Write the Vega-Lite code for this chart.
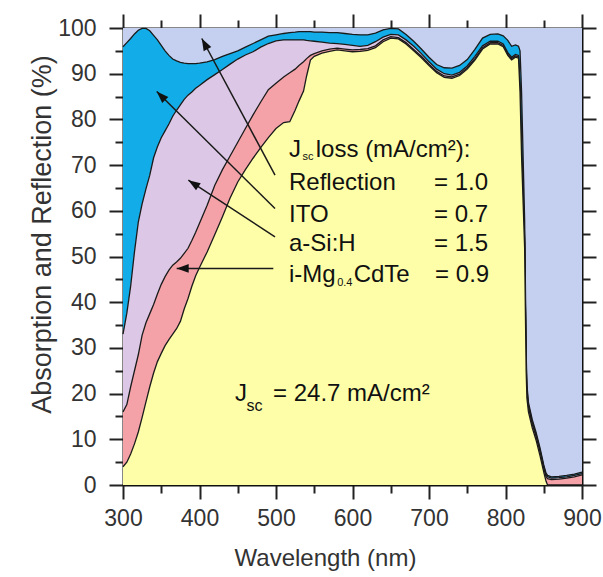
{
  "$schema": "https://vega.github.io/schema/vega-lite/v6.json",
  "width": 459,
  "height": 457,
  "autosize": {"type": "none"},
  "padding": {"left": 123, "top": 28, "right": 21, "bottom": 92},
  "background": "white",
  "config": {
    "view": {"stroke": null},
    "area": {"opacity": 1},
    "axis": {
      "grid": false,
      "labelFont": "Liberation Sans",
      "titleFont": "Liberation Sans",
      "labelFontSize": 23,
      "labelColor": "#333",
      "titleColor": "#333",
      "titleFontWeight": "normal",
      "tickColor": "#222",
      "tickWidth": 2,
      "domain": false,
      "domainColor": "#111",
      "domainWidth": 2,
      "zindex": 1,
      "labelFlush": false,
      "labelOverlap": false
    },
    "text": {"font": "Liberation Sans"}
  },
  "datasets": {
    "curves": [
      {"wl": 300, "b1": 4, "b2": 16, "b3": 33, "b4": 95.9},
      {"wl": 305, "b1": 5, "b2": 17.6, "b3": 37.6, "b4": 96.8},
      {"wl": 310, "b1": 6.8, "b2": 21.5, "b3": 43.5, "b4": 97.7},
      {"wl": 315, "b1": 9, "b2": 25, "b3": 51, "b4": 98.7},
      {"wl": 320, "b1": 11.6, "b2": 28.5, "b3": 57.5, "b4": 99.5},
      {"wl": 325, "b1": 14.8, "b2": 32.8, "b3": 61.5, "b4": 99.9},
      {"wl": 330, "b1": 18.2, "b2": 35.5, "b3": 64.8, "b4": 99.9},
      {"wl": 335, "b1": 21.5, "b2": 37.5, "b3": 67.8, "b4": 99.4},
      {"wl": 340, "b1": 24.5, "b2": 39.5, "b3": 71.6, "b4": 98.4},
      {"wl": 345, "b1": 27, "b2": 41.8, "b3": 74, "b4": 97.4},
      {"wl": 350, "b1": 28.8, "b2": 43.9, "b3": 76, "b4": 96.2},
      {"wl": 355, "b1": 30.5, "b2": 45.6, "b3": 77.5, "b4": 95},
      {"wl": 360, "b1": 31.8, "b2": 47, "b3": 79, "b4": 94},
      {"wl": 365, "b1": 33, "b2": 48.1, "b3": 80.7, "b4": 93.2},
      {"wl": 370, "b1": 34.2, "b2": 48.8, "b3": 82, "b4": 92.8},
      {"wl": 375, "b1": 35.8, "b2": 49.6, "b3": 83.2, "b4": 92.5},
      {"wl": 380, "b1": 38.5, "b2": 50.7, "b3": 84.4, "b4": 92.3},
      {"wl": 385, "b1": 40.8, "b2": 51.8, "b3": 85.3, "b4": 92.2},
      {"wl": 390, "b1": 43.5, "b2": 53.5, "b3": 86, "b4": 92.2},
      {"wl": 395, "b1": 45.8, "b2": 55.3, "b3": 86.8, "b4": 92.2},
      {"wl": 400, "b1": 47.6, "b2": 57.3, "b3": 87.4, "b4": 92.3},
      {"wl": 410, "b1": 51, "b2": 61.2, "b3": 88.7, "b4": 92.6},
      {"wl": 420, "b1": 54.8, "b2": 65.6, "b3": 89.8, "b4": 93.1},
      {"wl": 430, "b1": 58.7, "b2": 69, "b3": 90.9, "b4": 93.8},
      {"wl": 440, "b1": 62.8, "b2": 72, "b3": 92.1, "b4": 94.4},
      {"wl": 450, "b1": 66.3, "b2": 75, "b3": 93.2, "b4": 95},
      {"wl": 460, "b1": 69, "b2": 78, "b3": 94.1, "b4": 95.8},
      {"wl": 470, "b1": 71.5, "b2": 81, "b3": 94.8, "b4": 96.6},
      {"wl": 480, "b1": 73.8, "b2": 83.8, "b3": 95.8, "b4": 97.4},
      {"wl": 490, "b1": 76, "b2": 86.5, "b3": 96.6, "b4": 98.2},
      {"wl": 500, "b1": 78, "b2": 87.9, "b3": 97.2, "b4": 98.5},
      {"wl": 510, "b1": 79.3, "b2": 89.3, "b3": 97.4, "b4": 98.8},
      {"wl": 518, "b1": 79.5, "b2": 90.2, "b3": 97.4, "b4": 99},
      {"wl": 525, "b1": 82, "b2": 91, "b3": 97.4, "b4": 99.1},
      {"wl": 530, "b1": 84, "b2": 91.8, "b3": 97.4, "b4": 99.2},
      {"wl": 536, "b1": 86.2, "b2": 92.6, "b3": 97.4, "b4": 99.2},
      {"wl": 540, "b1": 89.5, "b2": 93.3, "b3": 97.3, "b4": 99.2},
      {"wl": 545, "b1": 93, "b2": 94, "b3": 97.2, "b4": 99.2},
      {"wl": 550, "b1": 93.8, "b2": 94.4, "b3": 97.1, "b4": 99.1},
      {"wl": 560, "b1": 94.5, "b2": 95, "b3": 96.9, "b4": 99.1},
      {"wl": 570, "b1": 94.9, "b2": 95.4, "b3": 96.7, "b4": 99},
      {"wl": 580, "b1": 95.2, "b2": 95.6, "b3": 96.6, "b4": 99},
      {"wl": 590, "b1": 95, "b2": 95.4, "b3": 96.4, "b4": 98.8},
      {"wl": 600, "b1": 94.8, "b2": 95.2, "b3": 96.2, "b4": 98.6},
      {"wl": 610, "b1": 94.9, "b2": 95.3, "b3": 96, "b4": 98.5},
      {"wl": 620, "b1": 95.1, "b2": 95.5, "b3": 96.2, "b4": 98.5},
      {"wl": 630, "b1": 95.7, "b2": 96.1, "b3": 97, "b4": 98.9},
      {"wl": 640, "b1": 97, "b2": 97.4, "b3": 98, "b4": 99.6},
      {"wl": 650, "b1": 97.8, "b2": 98.1, "b3": 98.6, "b4": 99.9},
      {"wl": 660, "b1": 97.6, "b2": 97.9, "b3": 98.5, "b4": 99.8},
      {"wl": 670, "b1": 96.5, "b2": 96.8, "b3": 97.4, "b4": 98.6},
      {"wl": 680, "b1": 95, "b2": 95.3, "b3": 96, "b4": 97.1},
      {"wl": 690, "b1": 93.5, "b2": 93.8, "b3": 94.4, "b4": 95.4},
      {"wl": 700, "b1": 91.8, "b2": 92.1, "b3": 92.6, "b4": 93.6},
      {"wl": 710, "b1": 90.2, "b2": 90.5, "b3": 91, "b4": 92},
      {"wl": 720, "b1": 89.2, "b2": 89.5, "b3": 90, "b4": 91.3},
      {"wl": 730, "b1": 89, "b2": 89.3, "b3": 89.7, "b4": 91.2},
      {"wl": 740, "b1": 89.6, "b2": 89.9, "b3": 90.3, "b4": 91.8},
      {"wl": 750, "b1": 91, "b2": 91.3, "b3": 91.7, "b4": 93.1},
      {"wl": 760, "b1": 93, "b2": 93.3, "b3": 93.8, "b4": 95.3},
      {"wl": 770, "b1": 95.4, "b2": 95.7, "b3": 96.1, "b4": 97.8},
      {"wl": 780, "b1": 96.5, "b2": 96.8, "b3": 97.1, "b4": 98.6},
      {"wl": 790, "b1": 96.5, "b2": 96.8, "b3": 97.1, "b4": 98.7},
      {"wl": 797, "b1": 95.9, "b2": 96.2, "b3": 96.5, "b4": 98.3},
      {"wl": 803, "b1": 94, "b2": 94.3, "b3": 94.6, "b4": 97.3},
      {"wl": 808, "b1": 93, "b2": 93.3, "b3": 93.6, "b4": 96},
      {"wl": 813, "b1": 93.6, "b2": 93.9, "b3": 94.2, "b4": 96.3},
      {"wl": 817, "b1": 93.4, "b2": 93.7, "b3": 94, "b4": 96},
      {"wl": 819, "b1": 86, "b2": 86.5, "b3": 87, "b4": 95},
      {"wl": 821, "b1": 72, "b2": 73, "b3": 74, "b4": 86},
      {"wl": 823, "b1": 62, "b2": 63, "b3": 64, "b4": 72},
      {"wl": 825, "b1": 52, "b2": 53, "b3": 54, "b4": 58},
      {"wl": 826, "b1": 38, "b2": 39, "b3": 40, "b4": 44},
      {"wl": 827, "b1": 25, "b2": 26, "b3": 27, "b4": 29},
      {"wl": 828, "b1": 19, "b2": 20, "b3": 21, "b4": 22},
      {"wl": 830, "b1": 16, "b2": 17, "b3": 17.5, "b4": 18},
      {"wl": 835, "b1": 12.5, "b2": 13.3, "b3": 13.8, "b4": 14.3},
      {"wl": 840, "b1": 9.8, "b2": 10.6, "b3": 11, "b4": 11.5},
      {"wl": 845, "b1": 6.5, "b2": 7.4, "b3": 7.8, "b4": 8.2},
      {"wl": 850, "b1": 2.8, "b2": 3.6, "b3": 4, "b4": 4.4},
      {"wl": 853, "b1": 0.8, "b2": 1.8, "b3": 2.2, "b4": 2.6},
      {"wl": 855, "b1": 0, "b2": 1.4, "b3": 1.8, "b4": 2.1},
      {"wl": 860, "b1": 0, "b2": 1.2, "b3": 1.5, "b4": 1.8},
      {"wl": 870, "b1": 0, "b2": 1.3, "b3": 1.6, "b4": 1.9},
      {"wl": 880, "b1": 0, "b2": 1.5, "b3": 1.8, "b4": 2.1},
      {"wl": 890, "b1": 0, "b2": 1.8, "b3": 2.1, "b4": 2.4},
      {"wl": 900, "b1": 0, "b2": 2.2, "b3": 2.5, "b4": 2.8}
    ],
    "labels": [
      {"x": 517, "y": 73.3, "text": "J", "kind": "main"},
      {"x": 534.5, "y": 71.7, "text": "sc", "kind": "sub"},
      {"x": 552, "y": 73.3, "text": "loss (mA/cm²):", "kind": "main"},
      {"x": 517, "y": 66.1, "text": "Reflection", "kind": "main"},
      {"x": 706.5, "y": 66.1, "text": "= 1.0", "kind": "main"},
      {"x": 517, "y": 59.1, "text": "ITO", "kind": "main"},
      {"x": 706.5, "y": 59.1, "text": "= 0.7", "kind": "main"},
      {"x": 517, "y": 52.8, "text": "a-Si:H", "kind": "main"},
      {"x": 706.5, "y": 52.8, "text": "= 1.5", "kind": "main"},
      {"x": 517, "y": 46.0, "text": "i-Mg", "kind": "main"},
      {"x": 580, "y": 44.3, "text": "0.4", "kind": "sub"},
      {"x": 601.5, "y": 46.0, "text": "CdTe", "kind": "main"},
      {"x": 708, "y": 46.0, "text": "= 0.9", "kind": "main"},
      {"x": 446.4, "y": 20.0, "text": "J", "kind": "main"},
      {"x": 461.5, "y": 17.3, "text": "sc", "kind": "sub2"},
      {"x": 496.1, "y": 20.0, "text": "= 24.7 mA/cm²", "kind": "main"}
    ],
    "arrows": [
      {"label": "Reflection", "x": 403.0, "y": 97.7, "x2": 498.7, "y2": 67.8},
      {"label": "ITO", "x": 344.1, "y": 86.1, "x2": 498.7, "y2": 60.5},
      {"label": "a-Si:H", "x": 385.4, "y": 66.7, "x2": 498.7, "y2": 54.3},
      {"label": "i-Mg0.4CdTe", "x": 370.2, "y": 47.4, "x2": 496.5, "y2": 47.4}
    ]
  },
  "layer": [
    {
      "data": {"name": "curves"},
      "mark": {"type": "area", "color": "#c5d0f0", "opacity": 1},
      "encoding": {
        "x": {"field": "wl", "type": "quantitative", "scale": {"domain": [300, 900], "nice": false, "zero": false},
          "axis": {"orient": "bottom", "values": [300, 400, 500, 600, 700, 800, 900], "format": "d", "tickSize": 14, "labelPadding": 8,
            "title": "Wavelength (nm)", "titleFontSize": 24, "titleX": 202, "titleY": 73, "titleAlign": "center", "titleBaseline": "middle", "domain": true}},
        "y": {"field": "b4", "type": "quantitative", "scale": {"domain": [0, 100], "nice": false, "zero": false},
          "axis": {"orient": "left", "values": [0, 10, 20, 30, 40, 50, 60, 70, 80, 90, 100], "tickSize": 14, "labelPadding": 13,
            "title": "Absorption and Reflection (%)", "titleFontSize": 27, "titleAngle": -90, "titleX": -81, "titleY": 206, "titleAlign": "center", "titleBaseline": "middle", "domain": true}},
        "y2": {"datum": 100}
      }
    },
    {
      "data": {"name": "curves"},
      "mark": {"type": "area", "color": "#12ade8", "opacity": 1, "line": {"color": "#1a1a1a", "strokeWidth": 1.3}},
      "encoding": {
        "x": {"field": "wl", "type": "quantitative", "scale": {"domain": [300, 900], "nice": false, "zero": false},
          "axis": {"orient": "top", "values": [300, 400, 500, 600, 700, 800, 900], "tickSize": 14, "labels": false, "title": null, "domain": true}},
        "y": {"field": "b4", "type": "quantitative", "scale": {"domain": [0, 100], "nice": false, "zero": false},
          "axis": {"orient": "right", "values": [0, 10, 20, 30, 40, 50, 60, 70, 80, 90, 100], "tickSize": 14, "labels": false, "title": null, "domain": true}},
        "y2": {"field": "b3"}
      }
    },
    {
      "data": {"name": "curves"},
      "mark": {"type": "area", "color": "#dcc8e6", "opacity": 1, "line": {"color": "#1a1a1a", "strokeWidth": 1.3}},
      "encoding": {
        "x": {"field": "wl", "type": "quantitative", "scale": {"domain": [300, 900], "nice": false, "zero": false},
          "axis": {"orient": "bottom", "values": [350, 450, 550, 650, 750, 850], "tickSize": 8, "labels": false, "title": null}},
        "y": {"field": "b3", "type": "quantitative", "scale": {"domain": [0, 100], "nice": false, "zero": false},
          "axis": {"orient": "left", "values": [5, 15, 25, 35, 45, 55, 65, 75, 85, 95], "tickSize": 8, "labels": false, "title": null}},
        "y2": {"field": "b2"}
      }
    },
    {
      "data": {"name": "curves"},
      "mark": {"type": "area", "color": "#f4a2a8", "opacity": 1, "line": {"color": "#1a1a1a", "strokeWidth": 1.3}},
      "encoding": {
        "x": {"field": "wl", "type": "quantitative", "scale": {"domain": [300, 900], "nice": false, "zero": false},
          "axis": {"orient": "top", "values": [350, 450, 550, 650, 750, 850], "tickSize": 8, "labels": false, "title": null}},
        "y": {"field": "b2", "type": "quantitative", "scale": {"domain": [0, 100], "nice": false, "zero": false},
          "axis": {"orient": "right", "values": [5, 15, 25, 35, 45, 55, 65, 75, 85, 95], "tickSize": 8, "labels": false, "title": null}},
        "y2": {"field": "b1"}
      }
    },
    {
      "data": {"name": "curves"},
      "mark": {"type": "area", "color": "#fefea8", "opacity": 1, "line": {"color": "#1a1a1a", "strokeWidth": 1.3}},
      "encoding": {
        "x": {"field": "wl", "type": "quantitative", "scale": {"domain": [300, 900], "nice": false, "zero": false}, "axis": null},
        "y": {"field": "b1", "type": "quantitative", "scale": {"domain": [0, 100], "nice": false, "zero": false}, "axis": null},
        "y2": {"datum": 0}
      }
    },
    {
      "data": {"name": "arrows"},
      "mark": {"type": "rule", "color": "#1a1a1a", "strokeWidth": 1.5},
      "encoding": {
        "x": {"field": "x", "type": "quantitative", "scale": {"domain": [300, 900], "nice": false, "zero": false}, "axis": null},
        "y": {"field": "y", "type": "quantitative", "scale": {"domain": [0, 100], "nice": false, "zero": false}, "axis": null},
        "x2": {"field": "x2"},
        "y2": {"field": "y2"}
      }
    },
    {
      "data": {"name": "arrows"},
      "transform": [
        {"calculate": "atan2((datum.x - datum.x2) * 0.765, (datum.y - datum.y2) * 4.57) * 180 / PI", "as": "heading"}
      ],
      "mark": {"type": "point", "shape": "M0,0L0.36,1L-0.36,1Z", "filled": true, "color": "#111", "opacity": 1, "size": 576},
      "encoding": {
        "x": {"field": "x", "type": "quantitative", "scale": {"domain": [300, 900], "nice": false, "zero": false}, "axis": null},
        "y": {"field": "y", "type": "quantitative", "scale": {"domain": [0, 100], "nice": false, "zero": false}, "axis": null},
        "angle": {"field": "heading", "type": "quantitative", "scale": null}
      }
    },
    {
      "data": {"name": "labels"},
      "transform": [{"filter": "datum.kind === 'main'"}],
      "mark": {"type": "text", "align": "left", "baseline": "middle", "color": "#111", "font": "Liberation Sans", "fontSize": 24},
      "encoding": {
        "x": {"field": "x", "type": "quantitative", "scale": {"domain": [300, 900], "nice": false, "zero": false}, "axis": null},
        "y": {"field": "y", "type": "quantitative", "scale": {"domain": [0, 100], "nice": false, "zero": false}, "axis": null},
        "text": {"field": "text", "type": "nominal"}
      }
    },
    {
      "data": {"name": "labels"},
      "transform": [{"filter": "datum.kind === 'sub'"}],
      "mark": {"type": "text", "align": "left", "baseline": "middle", "color": "#111", "font": "Liberation Sans", "fontSize": 11},
      "encoding": {
        "x": {"field": "x", "type": "quantitative", "scale": {"domain": [300, 900], "nice": false, "zero": false}, "axis": null},
        "y": {"field": "y", "type": "quantitative", "scale": {"domain": [0, 100], "nice": false, "zero": false}, "axis": null},
        "text": {"field": "text", "type": "nominal"}
      }
    },
    {
      "data": {"name": "labels"},
      "transform": [{"filter": "datum.kind === 'sub2'"}],
      "mark": {"type": "text", "align": "left", "baseline": "middle", "color": "#111", "font": "Liberation Sans", "fontSize": 16},
      "encoding": {
        "x": {"field": "x", "type": "quantitative", "scale": {"domain": [300, 900], "nice": false, "zero": false}, "axis": null},
        "y": {"field": "y", "type": "quantitative", "scale": {"domain": [0, 100], "nice": false, "zero": false}, "axis": null},
        "text": {"field": "text", "type": "nominal"}
      }
    }
  ],
  "resolve": {"axis": {"x": "independent", "y": "independent"}}
}
